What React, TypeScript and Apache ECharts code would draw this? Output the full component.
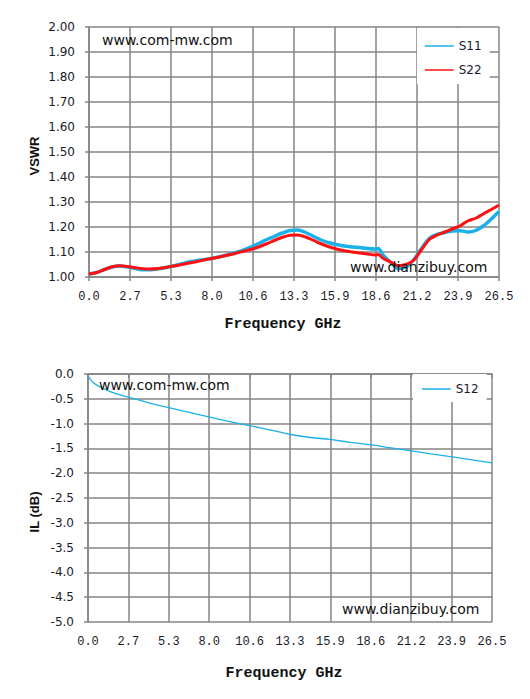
import React, { useEffect, useRef } from "react";
import * as echarts from "echarts";

const xTickLabels = ["0.0", "2.7", "5.3", "8.0", "10.6", "13.3", "15.9", "18.6", "21.2", "23.9", "26.5"];

const vswrFreq = [0, 0.5, 1.0, 1.5, 2.0, 2.5, 3.0, 3.5, 4.0, 4.5, 5.0, 5.5, 6.0, 6.5, 7.0, 7.5, 8.0, 8.5, 9.0, 9.5, 10.0, 10.5, 11.0, 11.5, 12.0, 12.5, 13.0, 13.5, 14.0, 14.5, 15.0, 15.5, 16.0, 16.5, 17.0, 17.5, 18.0, 18.5, 18.7, 19.0, 19.5, 20.0, 20.5, 21.0, 21.5, 22.0, 22.5, 23.0, 23.5, 24.0, 24.5, 25.0, 25.5, 26.0, 26.5];

const s11 = [1.012, 1.018, 1.030, 1.040, 1.044, 1.040, 1.034, 1.029, 1.029, 1.033, 1.038, 1.045, 1.053, 1.061, 1.066, 1.070, 1.075, 1.082, 1.089, 1.098, 1.108, 1.121, 1.135, 1.150, 1.163, 1.176, 1.186, 1.188, 1.178, 1.163, 1.148, 1.137, 1.130, 1.124, 1.120, 1.118, 1.114, 1.112, 1.114, 1.088, 1.058, 1.034, 1.040, 1.070, 1.115, 1.155, 1.170, 1.178, 1.184, 1.185, 1.180, 1.186, 1.205, 1.232, 1.262];

const s22 = [1.012, 1.018, 1.030, 1.041, 1.045, 1.042, 1.037, 1.033, 1.032, 1.034, 1.039, 1.044, 1.050, 1.056, 1.062, 1.069, 1.075, 1.081, 1.088, 1.095, 1.103, 1.111, 1.121, 1.133, 1.147, 1.159, 1.167, 1.168, 1.160, 1.147, 1.133, 1.121, 1.112, 1.105, 1.100, 1.096, 1.092, 1.088, 1.090, 1.075, 1.060, 1.045, 1.050, 1.068, 1.110, 1.150, 1.168, 1.180, 1.193, 1.205, 1.225, 1.235, 1.253, 1.270, 1.288];

const ilFreq = [0, 0.2, 0.5, 1.0, 1.5, 2.0, 2.7, 4.0, 5.3, 6.7, 8.0, 9.3, 10.6, 12.0, 13.3, 14.6, 15.9, 17.2, 18.6, 19.9, 21.2, 22.5, 23.9, 25.2, 26.5];
const s12 = [-0.03, -0.13, -0.21, -0.29, -0.36, -0.41, -0.47, -0.58, -0.68, -0.78, -0.87, -0.96, -1.04, -1.13, -1.22, -1.28, -1.32, -1.38, -1.43, -1.49, -1.55, -1.61, -1.67, -1.73, -1.79];

const BLUE = "#1bb1e8";
const RED = "#ff1010";
const GRID = "#858585";
const TXT = "#1a1a2a";

export default function App() {
  const ref = useRef<HTMLDivElement>(null);

  useEffect(() => {
    if (!ref.current) return;
    const chart = echarts.init(ref.current, undefined, { renderer: "svg" });

    const xAxisBase = (gridIndex: number, margin: number) => ({
      type: "value",
      gridIndex,
      min: 0,
      max: 26.5,
      interval: 2.65,
      axisLine: { show: true, lineStyle: { color: GRID, width: 1.5 } },
      axisTick: { show: true, length: 4, lineStyle: { color: GRID, width: 1.5 } },
      splitLine: { show: true, lineStyle: { color: GRID, width: 1.5 } },
      axisLabel: {
        margin,
        color: TXT,
        fontFamily: "Liberation Mono",
        fontSize: 12,
        formatter: (v: number) => xTickLabels[Math.round(v / 2.65)] ?? "",
      },
    });

    const pair = (xs: number[], ys: number[]) => xs.map((x, i) => [x, ys[i]]);

    const legendCommon = {
      orient: "vertical",
      itemWidth: 29,
      itemHeight: 14,
      backgroundColor: "#ffffff",
      lineStyle: { width: 1.5 },
      itemStyle: { opacity: 0 },
      textStyle: { fontFamily: "DejaVu Sans", fontSize: 12, color: TXT },
    };

    const option = {
      animation: false,
      backgroundColor: "#ffffff",
      grid: [
        { left: 89, top: 27, width: 410, height: 250 },
        { left: 88, top: 374, width: 404, height: 248 },
      ],
      xAxis: [xAxisBase(0, 14), xAxisBase(1, 14)],
      yAxis: [
        {
          type: "value",
          gridIndex: 0,
          min: 1,
          max: 2,
          interval: 0.1,
          axisLine: { show: true, lineStyle: { color: GRID, width: 1.5 } },
          axisTick: { show: true, length: 4, lineStyle: { color: GRID, width: 1.5 } },
          splitLine: { show: true, lineStyle: { color: GRID, width: 1.5 } },
          axisLabel: {
            margin: 14,
            color: TXT,
            fontFamily: "DejaVu Sans",
            fontSize: 12,
            formatter: (v: number) => v.toFixed(2),
          },
        },
        {
          type: "value",
          gridIndex: 1,
          min: -5,
          max: 0,
          interval: 0.5,
          axisLine: { show: true, lineStyle: { color: GRID, width: 1.5 } },
          axisTick: { show: true, length: 4, lineStyle: { color: GRID, width: 1.5 } },
          splitLine: { show: true, lineStyle: { color: GRID, width: 1.5 } },
          axisLabel: {
            margin: 14,
            color: TXT,
            fontFamily: "DejaVu Sans",
            fontSize: 12,
            formatter: (v: number) => v.toFixed(1),
          },
        },
      ],
      legend: [
        {
          ...legendCommon,
          data: ["S11", "S22"],
          left: 417,
          top: 28,
          padding: [12, 8, 8, 7],
          itemGap: 12,
        },
        {
          ...legendCommon,
          data: ["S12"],
          left: 413,
          top: 374,
          padding: [9, 8, 7, 8],
        },
      ],
      series: [
        {
          name: "S11",
          type: "line",
          xAxisIndex: 0,
          yAxisIndex: 0,
          symbol: "none",
          smooth: 0.3,
          data: pair(vswrFreq, s11),
          lineStyle: { color: BLUE, width: 3.5 },
          itemStyle: { color: BLUE },
        },
        {
          name: "S22",
          type: "line",
          xAxisIndex: 0,
          yAxisIndex: 0,
          symbol: "none",
          smooth: 0.3,
          data: pair(vswrFreq, s22),
          lineStyle: { color: RED, width: 3 },
          itemStyle: { color: RED },
        },
        {
          name: "S12",
          type: "line",
          xAxisIndex: 1,
          yAxisIndex: 1,
          symbol: "none",
          smooth: 0.4,
          data: pair(ilFreq, s12),
          lineStyle: { color: BLUE, width: 1.3 },
          itemStyle: { color: BLUE },
        },
      ],
      graphic: [
        { type: "text", x: 102, y: 40, z: 100, style: { text: "www.com-mw.com", fontFamily: "DejaVu Sans", fontSize: 14, fill: "#111", verticalAlign: "middle" } },
        { type: "text", x: 350, y: 267, z: 100, style: { text: "www.dianzibuy.com", fontFamily: "DejaVu Sans", fontSize: 14, fill: "#111", verticalAlign: "middle" } },
        { type: "text", x: 99, y: 385, z: 100, style: { text: "www.com-mw.com", fontFamily: "DejaVu Sans", fontSize: 14, fill: "#111", verticalAlign: "middle" } },
        { type: "text", x: 342, y: 609, z: 100, style: { text: "www.dianzibuy.com", fontFamily: "DejaVu Sans", fontSize: 14, fill: "#111", verticalAlign: "middle" } },
        { type: "text", x: 283, y: 324, style: { text: "Frequency GHz", fontFamily: "Liberation Mono", fontWeight: "bold", fontSize: 15, fill: "#111", align: "center", verticalAlign: "middle" } },
        { type: "text", x: 284, y: 673, style: { text: "Frequency GHz", fontFamily: "Liberation Mono", fontWeight: "bold", fontSize: 15, fill: "#111", align: "center", verticalAlign: "middle" } },
        { type: "text", x: 34, y: 156, rotation: Math.PI / 2, style: { text: "VSWR", fontFamily: "Liberation Sans", fontWeight: "bold", fontSize: 13, fill: "#111", align: "center", verticalAlign: "middle" } },
        { type: "text", x: 34, y: 512, rotation: Math.PI / 2, style: { text: "IL (dB)", fontFamily: "Liberation Sans", fontWeight: "bold", fontSize: 13, fill: "#111", align: "center", verticalAlign: "middle" } },
      ],
    };

    chart.setOption(option as any);
    return () => chart.dispose();
  }, []);

  return (
    <div
      ref={ref}
      style={{ position: "fixed", left: 0, top: 0, width: 530, height: 699, background: "#fff" }}
    />
  );
}
